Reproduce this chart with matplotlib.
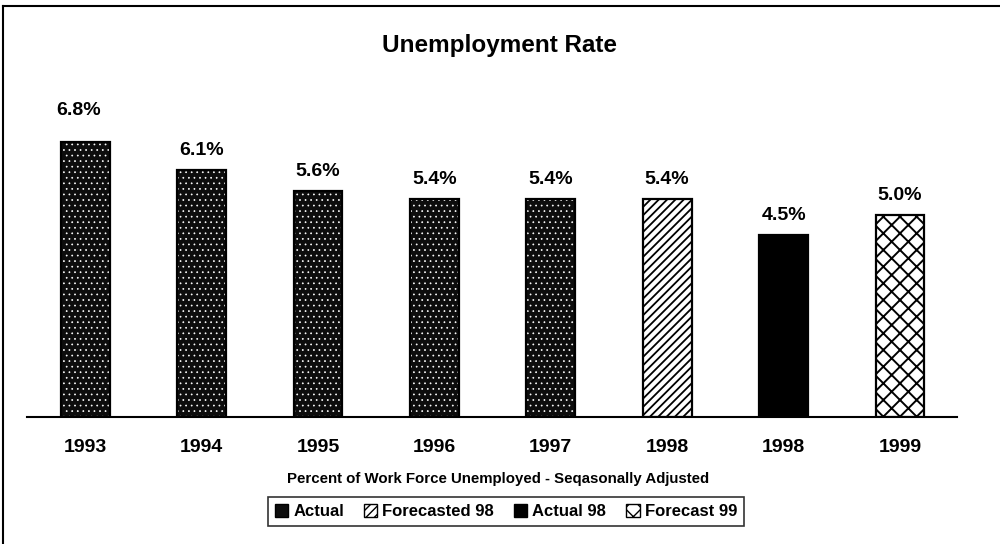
import matplotlib
matplotlib.use("Agg")
import matplotlib.pyplot as plt
from matplotlib.patches import Patch
from matplotlib.lines import Line2D

plt.rcParams['font.family'] = ['Liberation Sans', 'DejaVu Sans']

# Chart data
years = ["1993", "1994", "1995", "1996", "1997", "1998", "1998", "1999"]
rates = [6.8, 6.1, 5.6, 5.4, 5.4, 5.4, 4.5, 5.0]
series = ["Actual", "Actual", "Actual", "Actual", "Actual",
          "Forecasted 98", "Actual 98", "Forecast 99"]
legend_order = ["Actual", "Forecasted 98", "Actual 98", "Forecast 99"]

# fill style per series: (face, hatch color, hatch, hatch linewidth)
styles = {
    "Actual": ("#0d0d0d", "white", "...", 0.5),
    "Forecasted 98": ("white", "black", "////", 1.3),
    "Actual 98": ("black", "black", None, 1.0),
    "Forecast 99": ("white", "black", "xx", 1.4),
}

fig = plt.figure(figsize=(10, 5.44), dpi=100)
ax = fig.add_axes([0.027, 0.2335, 0.93, 0.6195])

x = list(range(len(years)))
width = 0.42
for i, (val, s) in enumerate(zip(rates, series)):
    face, hcol, hatch, hlw = styles[s]
    # hatch layer, then outline on top
    with plt.rc_context({"hatch.linewidth": hlw}):
        ax.bar(i, val, width, color=face, edgecolor=hcol, hatch=hatch, linewidth=0)
    ax.bar(i, val, width, fill=False, edgecolor="black", linewidth=1.6)
    off = 17 if i == 0 else 8
    ax.annotate(f"{val:.1f}%", (i, val), xytext=(-5 if i == 0 else 0, off),
                textcoords="offset points", ha="center", va="bottom",
                fontsize=14, fontweight="bold")

ax.set_xlim(-0.5, 7.49)
ax.set_ylim(0, 8.34)
ax.set_xticks(x)
ax.set_xticklabels(years, fontsize=14, fontweight="bold")
ax.tick_params(axis="x", length=0, pad=16)
ax.set_yticks([])
for side in ["left", "right", "top"]:
    ax.spines[side].set_visible(False)
ax.spines["bottom"].set_linewidth(1.5)

fig.text(0.5, 0.917, "Unemployment Rate", ha="center", va="center",
         fontsize=17.5, fontweight="bold")
fig.text(0.498, 0.1195, "Percent of Work Force Unemployed - Seqasonally Adjusted",
         ha="center", va="center", fontsize=10.8, fontweight="bold")

handles = []
for name in legend_order:
    face, hcol, hatch, hlw = styles[name]
    with plt.rc_context({"hatch.linewidth": hlw}):
        handles.append(Patch(facecolor=face, edgecolor="black",
                             hatch=None if name == "Actual" else hatch, linewidth=1))
leg = fig.legend(handles, legend_order, loc="center", bbox_to_anchor=(0.506, 0.0597),
                 ncol=4, prop={"weight": "bold", "size": 12},
                 frameon=True, fancybox=False, edgecolor="black",
                 handlelength=0.8, handleheight=0.8, handletextpad=0.3,
                 columnspacing=1.2, borderpad=0.4)
leg.get_frame().set_linewidth(1.2)

# outer frame (top and left edges)
fig.add_artist(Line2D([0.003, 1.0], [0.989, 0.989], color="black", linewidth=1.5,
                      transform=fig.transFigure))
fig.add_artist(Line2D([0.003, 0.003], [0.0, 0.989], color="black", linewidth=1.5,
                      transform=fig.transFigure))

fig.savefig("out.png", dpi=100)
